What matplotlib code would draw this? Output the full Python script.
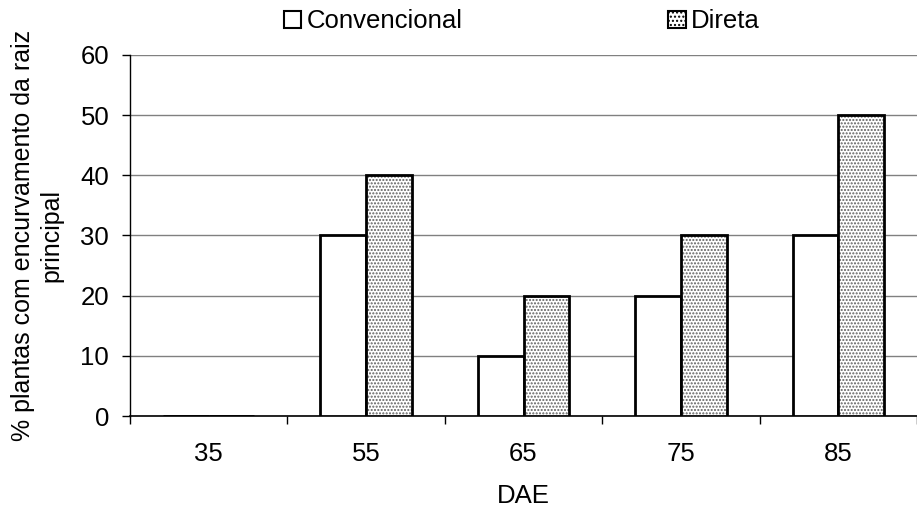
import matplotlib.pyplot as plt
from matplotlib.patches import Patch

plt.rcParams["font.family"] = ["Liberation Sans", "DejaVu Sans"]

# Data
dae = ["35", "55", "65", "75", "85"]
convencional = [0, 30, 10, 20, 30]
direta = [0, 40, 20, 30, 50]

fig = plt.figure(figsize=(9.17, 5.09), dpi=100)
ax = fig.add_axes([0.1418, 0.1827, 0.8582, 0.7093])

x = list(range(len(dae)))
w = 0.29
x_conv = [i - w / 2 for i in x]
x_dir = [i + w / 2 for i in x]

ax.bar(x_conv, convencional, width=w, color="white", edgecolor="black", linewidth=2, zorder=3)
# dotted fill drawn first, outline on top
ax.bar(x_dir, direta, width=w, color="white", edgecolor="#606060", hatch=".....", linewidth=0, zorder=3)
ax.bar(x_dir, direta, width=w, color="none", edgecolor="black", linewidth=2, zorder=4)

ax.set_xlim(-0.5, len(dae) - 0.5)
ax.set_ylim(0, 60)
ax.set_yticks(range(0, 61, 10))
ax.set_xticks(x)
ax.set_xticklabels(dae)
ax.set_xticks([i - 0.5 for i in range(len(dae) + 1)], minor=True)
ax.tick_params(axis="x", which="major", length=0, pad=19, labelsize=18.5)
ax.tick_params(axis="x", which="minor", length=6, width=1)
ax.tick_params(axis="y", length=6, width=1, labelsize=18.5, pad=9)

ax.yaxis.grid(True, color="#808080", linewidth=1, zorder=0)
ax.set_axisbelow(True)
for side in ["top", "right"]:
    ax.spines[side].set_visible(False)
ax.spines["left"].set_linewidth(1)
ax.spines["bottom"].set_linewidth(1.2)

ax.set_xlabel("DAE", fontsize=18.5, labelpad=13)
ax.set_ylabel("% plantas com encurvamento da raiz\nprincipal", fontsize=18, labelpad=12,
              linespacing=1.25)

handles = [
    Patch(facecolor="white", edgecolor="black", linewidth=1.5),
    Patch(facecolor="white", edgecolor="black", hatch="....", linewidth=1.5),
]
fig.legend(handles, ["Convencional", "Direta"], loc="center", bbox_to_anchor=(0.569, 0.958),
           ncol=2, frameon=False, fontsize=18.5, handlelength=0.68, handleheight=0.68,
           handletextpad=0.2, columnspacing=8.0, borderpad=0)

fig.savefig("out.png", dpi=100)
